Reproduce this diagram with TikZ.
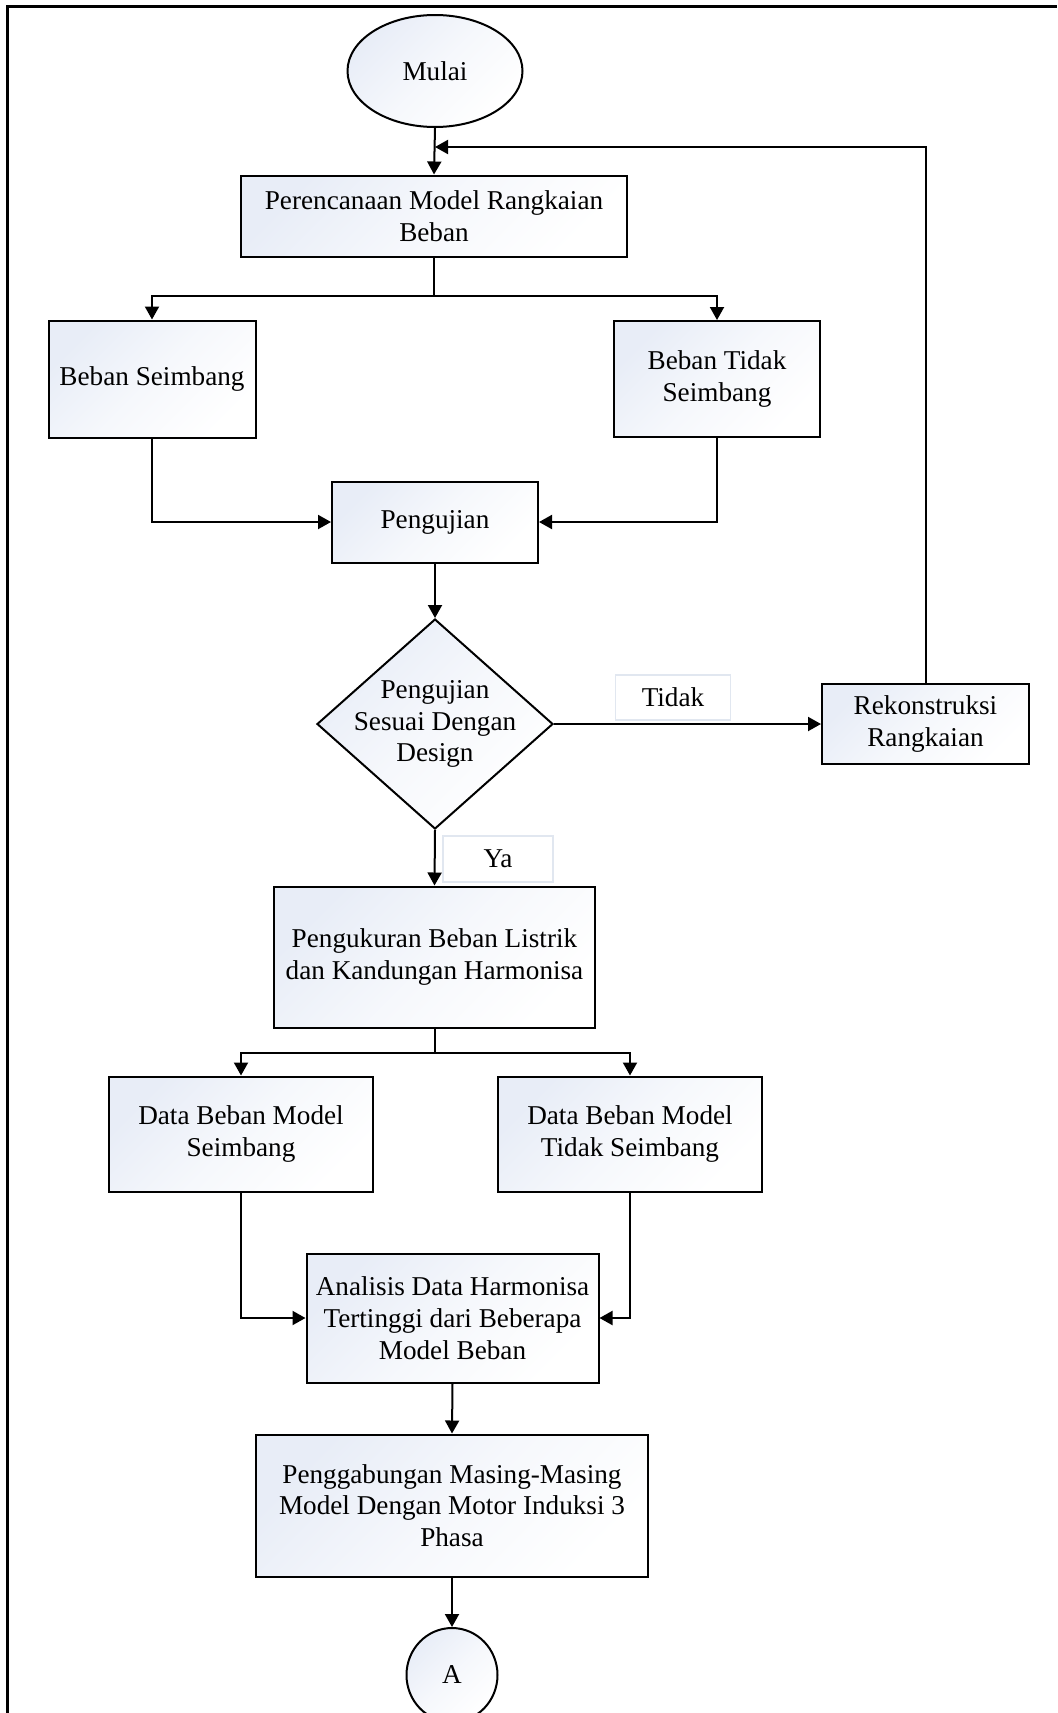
\documentclass[tikz,border=0pt]{standalone}
\usepackage{fontspec}
\setmainfont{Liberation Serif}
\usetikzlibrary{shapes.geometric,arrows.meta}

\definecolor{boxblue}{HTML}{E8EDF7}
\definecolor{labelline}{HTML}{E1E7F0}

\tikzset{
  base/.style={draw=black, line width=1pt, top color=boxblue, bottom color=white, middle color=white!60!boxblue, shading angle=45, align=center, inner sep=2pt},
  proses/.style={base, rectangle},
  terminal/.style={base, ellipse, inner sep=0pt},
  keputusan/.style={base, diamond, inner sep=-8pt},
  jawab/.style={draw=labelline, line width=0.8pt, fill=white, rectangle},
  arr/.style={line width=1pt, -{Triangle[length=6.5pt,width=7pt]}},
  garis/.style={line width=1pt}
}

\begin{document}
\begin{tikzpicture}[x=0.5pt,y=-0.5pt,font=\fontsize{13.6}{15.9}\selectfont]
  \useasboundingbox (0,0) rectangle (1057,1713);

  % bingkai
  \draw[line width=1.5pt] (7.5,1713) -- (7.5,6.5) -- (1057,6.5);

  % bagian atas
  \node[terminal, minimum width=87.5pt, minimum height=56pt] (mulai) at (435,71) {Mulai};
  \node[proses, minimum width=193pt, minimum height=40.5pt] (rencana) at (434,216) {Perencanaan Model Rangkaian\\Beban};
  \node[proses, minimum width=103.5pt, minimum height=58.5pt] (seimbang) at (152,379) {Beban Seimbang};
  \node[proses, minimum width=103pt, minimum height=58pt] (tdkseimbang) at (717,379) {Beban Tidak\\Seimbang};
  \node[proses, minimum width=103pt, minimum height=40.5pt] (uji) at (435,522) {Pengujian};

  % keputusan
  \node[keputusan, minimum width=118pt, minimum height=105pt] (cek) at (435,724) {Pengujian\\Sesuai Dengan\\Design};
  \node[jawab, minimum width=57.5pt, minimum height=22.5pt] (tidak) at (673,697.5) {Tidak};
  \node[proses, minimum width=103.5pt, minimum height=40pt] (rekon) at (925.5,724) {Rekonstruksi\\Rangkaian};
  \node[jawab, minimum width=55pt, minimum height=23pt] (ya) at (498,859) {Ya};

  % bagian bawah
  \node[proses, minimum width=160.5pt, minimum height=70.5pt] (ukur) at (434.5,957) {Pengukuran Beban Listrik\\dan Kandungan Harmonisa};
  \node[proses, minimum width=132pt, minimum height=57.5pt] (dataA) at (241,1134) {Data Beban Model\\Seimbang};
  \node[proses, minimum width=132pt, minimum height=57.5pt] (dataB) at (630,1134) {Data Beban Model\\Tidak Seimbang};
  \node[proses, minimum width=146pt, minimum height=64.5pt] (analisis) at (452.5,1318) {Analisis Data Harmonisa\\Tertinggi dari Beberapa\\Model Beban};
  \node[proses, minimum width=196pt, minimum height=71pt] (gabung) at (452,1505.5) {Penggabungan Masing-Masing\\Model Dengan Motor Induksi 3\\Phasa};
  \node[terminal, minimum width=45.5pt, minimum height=47pt] (konA) at (452,1675) {A};

  \coordinate (balik) at (435,147);
  \coordinate (cabang1) at (434,296);
  \coordinate (cabang2) at (434.5,1052.5);

  % panah
  \draw[arr] (mulai.south) -- (rencana.north);
  \draw[arr] (rekon.north) |- (balik);
  \draw[garis] (rencana.south) -- (cabang1);
  \draw[arr] (cabang1) -| (seimbang.north);
  \draw[arr] (cabang1) -| (tdkseimbang.north);
  \draw[arr] (seimbang.south) |- (uji.west);
  \draw[arr] (tdkseimbang.south) |- (uji.east);
  \draw[arr] (uji.south) -- (cek.north);
  \draw[arr] (cek.east) -- (rekon.west);
  \draw[arr] (cek.south) -- (ukur.north);
  \draw[garis] (ukur.south) -- (cabang2);
  \draw[arr] (cabang2) -| (dataA.north);
  \draw[arr] (cabang2) -| (dataB.north);
  \draw[arr] (dataA.south) |- (analisis.west);
  \draw[arr] (dataB.south) |- (analisis.east);
  \draw[arr] (analisis.south) -- (gabung.north);
  \draw[arr] (gabung.south) -- (konA.north);
\end{tikzpicture}
\end{document}
